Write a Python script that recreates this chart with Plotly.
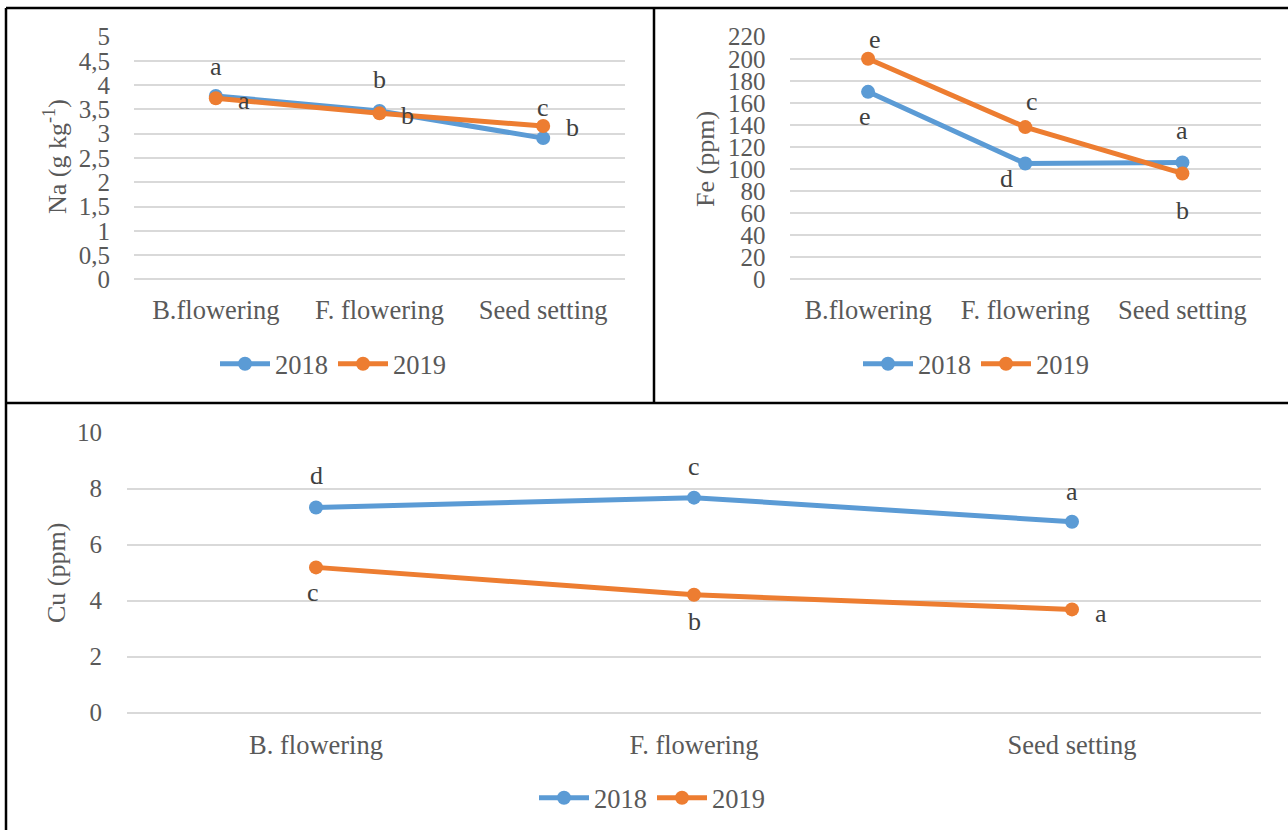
import plotly.graph_objects as go

# ---- data ----
stages_na_fe = ["B.flowering", "F. flowering", "Seed setting"]
stages_cu = ["B. flowering", "F. flowering", "Seed setting"]
years = ["2018", "2019"]

na_2018 = [3.78, 3.47, 2.91]
na_2019 = [3.73, 3.42, 3.16]
na_letters_2018 = ["a", "b", "c"]
na_letters_2019 = ["a", "b", "b"]

fe_2018 = [170, 105, 106]
fe_2019 = [200, 138, 96]
fe_letters_2018 = ["e", "d", "a"]
fe_letters_2019 = ["e", "c", "b"]

cu_2018 = [7.33, 7.68, 6.82]
cu_2019 = [5.19, 4.21, 3.69]
cu_letters_2018 = ["d", "c", "a"]
cu_letters_2019 = ["c", "b", "a"]

# ---- styling ----
W, H = 1288, 830
BLUE = "#5B9BD5"
ORANGE = "#ED7D31"
GRID = "#D9D9D9"
TICK = "#595959"
LETTER = "#404040"
FONT = "Liberation Serif"


def px_x(p):
    return p / W


def px_y(p):
    return 1 - p / H


fig = go.Figure()

panels = [
    # (axis suffix, stages, s2018, s2019, legend)
    ("", stages_na_fe, na_2018, na_2019, "legend"),
    ("2", stages_na_fe, fe_2018, fe_2019, "legend2"),
    ("3", stages_cu, cu_2018, cu_2019, "legend3"),
]

for suffix, stages, s18, s19, leg in panels:
    xs = list(range(len(stages)))
    for name, vals, col in [(years[0], s18, BLUE), (years[1], s19, ORANGE)]:
        fig.add_trace(go.Scatter(
            x=xs, y=vals, name=name, mode="lines+markers",
            line=dict(color=col, width=5),
            marker=dict(color=col, size=14),
            xaxis="x" + suffix, yaxis="y" + suffix,
            legend=leg, showlegend=True,
        ))

# letter offsets (pixels, dx right, dy down) relative to each point
na_off18 = [(0, -29), (0, -31), (0, -31)]
na_off19 = [(28, 2), (28, 2), (29, 2)]
fe_off18 = [(-3, 25), (-19, 15), (0, -32)]
fe_off19 = [(7, -19), (7, -26), (0, 37)]
cu_off18 = [(0, -32), (0, -31), (0, -30)]
cu_off19 = [(-3, 25), (0, 27), (29, 4)]

annotations = []
for suffix, s18, s19, l18, l19, o18, o19 in [
    ("", na_2018, na_2019, na_letters_2018, na_letters_2019, na_off18, na_off19),
    ("2", fe_2018, fe_2019, fe_letters_2018, fe_letters_2019, fe_off18, fe_off19),
    ("3", cu_2018, cu_2019, cu_letters_2018, cu_letters_2019, cu_off18, cu_off19),
]:
    for vals, letters, offs in [(s18, l18, o18), (s19, l19, o19)]:
        for i, (v, t, (dx, dy)) in enumerate(zip(vals, letters, offs)):
            annotations.append(dict(
                x=i, y=v, xref="x" + suffix, yref="y" + suffix,
                text=t, showarrow=False, xshift=dx, yshift=-dy,
                font=dict(family=FONT, size=26, color=LETTER),
                xanchor="center", yanchor="middle",
            ))

# y-axis titles
for text, x, y in [
    ("Na (g kg<sup>-1</sup>)", 56, 157),
    ("Fe (ppm)", 705, 159),
    ("Cu (ppm)", 56, 573),
]:
    annotations.append(dict(
        x=px_x(x), y=px_y(y), xref="paper", yref="paper", text=text,
        showarrow=False, textangle=-90, xanchor="center", yanchor="middle",
        font=dict(family=FONT, size=26, color=TICK),
    ))

tickfont = dict(family=FONT, size=25, color=TICK)
catfont = dict(family=FONT, size=26.5, color=TICK)


def xaxis(domain, stages, anchor, ticklen):
    return dict(
        domain=domain, anchor=anchor, range=[-0.5, len(stages) - 0.5],
        tickvals=list(range(len(stages))), ticktext=stages,
        showgrid=False, zeroline=False, showline=False, automargin=False,
        ticks="outside", ticklen=ticklen, tickcolor="rgba(0,0,0,0)",
        tickfont=catfont, fixedrange=True,
    )


def yaxis(domain, rng, dtick, anchor, ticklen):
    return dict(
        domain=domain, anchor=anchor, range=rng, dtick=dtick, tick0=0,
        showgrid=True, gridcolor=GRID, gridwidth=2, automargin=False,
        zeroline=True, zerolinecolor=GRID, zerolinewidth=2, showline=False,
        ticks="outside", ticklen=ticklen, tickcolor="rgba(0,0,0,0)",
        tickfont=tickfont, fixedrange=True,
    )


top_dom = [px_y(279.3), px_y(36.7)]
bot_dom = [px_y(712.7), px_y(432.7)]

legend_common = dict(
    orientation="h", xanchor="center", yanchor="middle",
    font=dict(family=FONT, size=26.5, color=TICK),
    bgcolor="rgba(0,0,0,0)", itemwidth=50,
)

# panel frame lines
lw = 2.5
shapes = [
    dict(type="line", xref="paper", yref="paper", x0=px_x(6), x1=1, y0=px_y(8), y1=px_y(8)),
    dict(type="line", xref="paper", yref="paper", x0=px_x(6), x1=px_x(6), y0=px_y(8), y1=0),
    dict(type="line", xref="paper", yref="paper", x0=px_x(654), x1=px_x(654), y0=px_y(8), y1=px_y(403)),
    dict(type="line", xref="paper", yref="paper", x0=px_x(6), x1=1, y0=px_y(403), y1=px_y(403)),
]
for s in shapes:
    s["line"] = dict(color="black", width=lw)

fig.update_layout(
    width=W, height=H,
    margin=dict(l=0, r=0, t=0, b=0, autoexpand=False),
    paper_bgcolor="white", plot_bgcolor="white",
    separators=", ",
    font=dict(family=FONT, color=TICK),
    xaxis=xaxis([px_x(134), px_x(625)], stages_na_fe, "y", 7),
    yaxis=yaxis(top_dom, [0, 5], 0.5, "x", 18),
    xaxis2=xaxis([px_x(789.5), px_x(1261)], stages_na_fe, "y2", 7),
    yaxis2=yaxis(top_dom, [0, 220], 20, "x2", 18),
    xaxis3=xaxis([px_x(127), px_x(1261)], stages_cu, "y3", 8),
    yaxis3=yaxis(bot_dom, [0, 10], 2, "x3", 19),
    legend=dict(x=px_x(333), y=px_y(364), **legend_common),
    legend2=dict(x=px_x(976), y=px_y(364), **legend_common),
    legend3=dict(x=px_x(652), y=px_y(798), **legend_common),
    annotations=annotations,
    shapes=shapes,
    showlegend=True,
)

fig.write_html("out.html")
